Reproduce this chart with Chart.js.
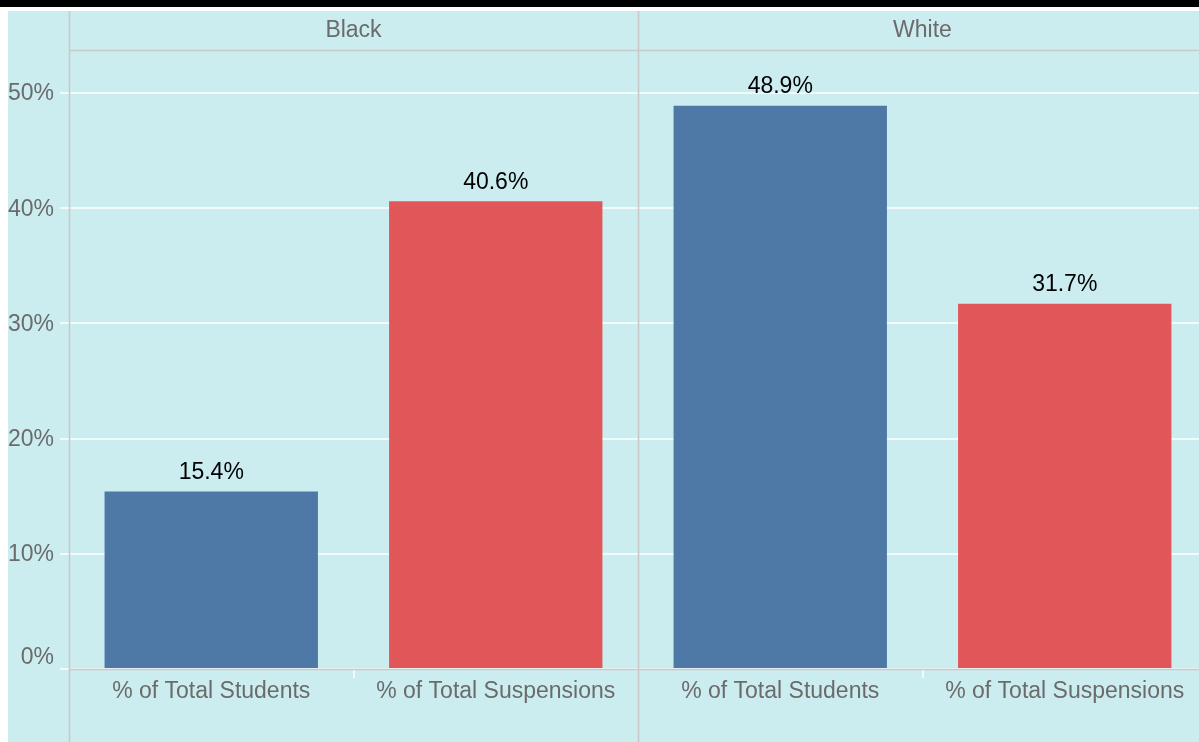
<!DOCTYPE html>
<html><head><meta charset="utf-8">
<script src="https://cdn.jsdelivr.net/npm/chart.js@4"></script>
<style>
html,body{margin:0;padding:0;background:#fff;overflow:hidden;width:1199px;height:742px}
#top{position:absolute;left:0;top:0;width:1199px;height:7px;background:#000}
#wrap{position:absolute;left:8px;top:11px;width:1191px;height:731px;overflow:hidden;background:#ccedf0}
#box{position:absolute;left:0;top:0;width:1199px;height:731px}
</style></head><body>
<div id="top"></div>
<div id="wrap"><div id="box"><canvas id="c"></canvas></div></div>
<script>
// ---- data ----
const groups = ['Black', 'White'];
const measures = ['% of Total Students', '% of Total Suspensions'];
const blackValues = [15.4, 40.6];
const whiteValues = [48.9, 31.7];
const yTicks = [0, 10, 20, 30, 40, 50];
const measureColors = ['#4e79a7', '#e15759'];

const groupValues = [blackValues, whiteValues];
const labels = [];
const values = [];
const colors = [];
groups.forEach((g, gi) => {
  measures.forEach((m, mi) => {
    labels.push(m);
    values.push(groupValues[gi][mi]);
    colors.push(measureColors[mi]);
  });
});

const FONT = '"Liberation Sans", Arial, Helvetica, sans-serif';
const GRAY = '#c9c9c9';
const TXT = '#6b6b6b';
const FS = 23;

const facetPlugin = {
  id: 'facets',
  afterDraw(chart) {
    const ctx = chart.ctx;
    const a = chart.chartArea;
    const y = chart.scales.y;
    const H = chart.height;
    const per = measures.length;
    const catW = (a.right - a.left) / labels.length;
    ctx.save();
    ctx.strokeStyle = GRAY;
    ctx.lineWidth = 1.6;
    ctx.beginPath(); ctx.moveTo(a.left, a.top + 0.5); ctx.lineTo(a.right + 20, a.top + 0.5); ctx.stroke();
    ctx.beginPath(); ctx.moveTo(a.left, a.bottom + 0.5); ctx.lineTo(a.right + 20, a.bottom + 0.5); ctx.stroke();
    for (let gi = 0; gi < groups.length; gi++) {
      const xx = a.left + gi * per * catW + 0.5;
      ctx.beginPath(); ctx.moveTo(xx, 0); ctx.lineTo(xx, H); ctx.stroke();
    }
    ctx.fillStyle = TXT;
    ctx.font = FS + 'px ' + FONT;
    ctx.textAlign = 'center';
    ctx.textBaseline = 'middle';
    groups.forEach((g, gi) => {
      const cx = a.left + (gi * per + per / 2) * catW;
      ctx.fillText(g, cx, 20);
    });
    ctx.textAlign = 'right';
    yTicks.forEach(v => {
      const py = y.getPixelForValue(v);
      if (v === 0) { ctx.textBaseline = 'alphabetic'; ctx.fillText(v + '%', a.left - 15, py - 5); }
      else { ctx.textBaseline = 'middle'; ctx.fillText(v + '%', a.left - 15, py + 1); }
    });
    const meta = chart.getDatasetMeta(0);
    ctx.fillStyle = '#000';
    ctx.textAlign = 'center';
    ctx.textBaseline = 'middle';
    meta.data.forEach((bar, i) => {
      ctx.fillText(values[i].toFixed(1) + '%', bar.x, bar.y - 19);
    });
    ctx.restore();
  }
};

new Chart(document.getElementById('c'), {
  type: 'bar',
  data: {
    labels: labels,
    datasets: [{
      data: values,
      backgroundColor: colors,
      borderWidth: 0,
      categoryPercentage: 1,
      barPercentage: 0.75
    }]
  },
  options: {
    responsive: true,
    maintainAspectRatio: false,
    animation: false,
    layout: { padding: { top: 39, left: 0, right: -8, bottom: 0 } },
    plugins: { legend: { display: false }, tooltip: { enabled: false } },
    scales: {
      x: {
        offset: true,
        afterFit: s => { s.height = 73; },
        border: { display: false },
        grid: {
          offset: true,
          drawOnChartArea: false,
          drawTicks: true,
          tickLength: 9,
          lineWidth: 2,
          color: c => (c.index % 2 === 1 ? '#f4fbfb' : 'rgba(0,0,0,0)')
        },
        ticks: {
          color: TXT,
          font: { size: FS, family: FONT },
          padding: 0,
          maxRotation: 0,
          autoSkip: false
        }
      },
      y: {
        min: 0,
        max: 53.73,
        afterFit: s => { s.width = 61; },
        afterBuildTicks: s => { s.ticks = yTicks.map(v => ({ value: v })); },
        border: { display: false },
        grid: {
          color: 'rgba(255,255,255,0.75)',
          lineWidth: 2,
          tickLength: 9,
          drawTicks: true
        },
        ticks: { display: false }
      }
    }
  },
  plugins: [facetPlugin]
});
</script>
</body></html>
